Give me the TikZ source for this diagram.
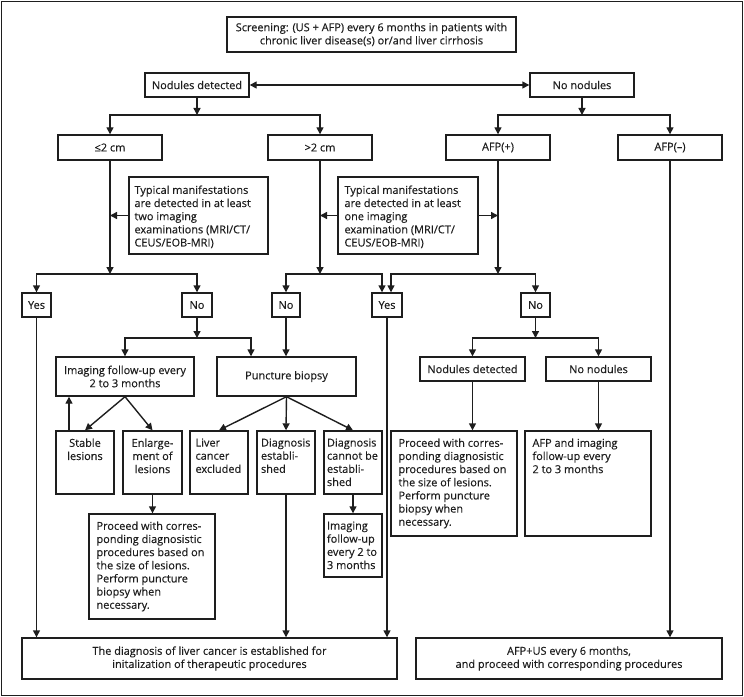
\documentclass[tikz,border=0pt]{standalone}
\usepackage{fontspec}
\setmainfont{Open Sans}[FakeBold=0.35]
\usetikzlibrary{arrows.meta}
\definecolor{lc}{HTML}{1E1E1E}
\tikzset{
  every node/.style={font=\fontsize{11}{13.2}\selectfont, text=lc},
  bx/.style={draw=lc, line width=1.4bp, inner sep=0pt, align=center},
  tx/.style={inner sep=0pt, align=left, anchor=north west},
  tc/.style={inner sep=0pt, align=center, anchor=north},
  ar/.style={draw=lc, line width=1.4bp, -{Triangle[length=7bp,width=7bp]}},
  dar/.style={draw=lc, line width=1.4bp, {Triangle[length=7bp,width=7bp]}-{Triangle[length=7bp,width=7bp]}},
  ln/.style={draw=lc, line width=1.4bp},
}
\newcommand\mybox[7][]{\node[bx,#1,minimum width={(#5-#3)*1bp},minimum height={(#6-#4)*1bp}] (#2) at ({(#3+#5)/2},{(#4+#6)/2}) {#7};}
\begin{document}
\begin{tikzpicture}[x=1bp,y=-1bp]
\useasboundingbox (0,0) rectangle (744,697);
\draw[ln] (1.5,1.5) rectangle (742.5,695.5);

% top level
\mybox{scr}{227}{17}{516}{52}{Screening: (US + AFP) every 6 months in patients with\\chronic liver disease(s) or/and liver cirrhosis}
\mybox{nd}{145}{73}{249}{97}{Nodules detected}
\mybox{nn}{530}{73}{634}{97}{No nodules}
\mybox{le2}{58}{135}{162}{160}{≤2 cm}
\mybox{gt2}{268}{135}{372}{160}{>2 cm}
\mybox{afpp}{446}{135}{550}{160}{AFP(+)}
\mybox{afpm}{618}{135}{722}{160}{AFP(–)}

% typical manifestation boxes
\mybox{typ1}{129}{177}{268}{254}{}
\node[tx] (typ1t) at ([shift={(6,9)}]typ1.north west) {Typical manifestations\\are detected in at least\\two imaging\\examinations (MRI/CT/\\CEUS/EOB-MRI)};
\mybox{typ2}{338}{177}{478}{254}{}
\node[tx] (typ2t) at ([shift={(7,9)}]typ2.north west) {Typical manifestations\\are detected in at least\\one imaging\\examination (MRI/CT/\\CEUS/EOB-MRI)};

% yes / no
\mybox{yes1}{22}{293}{51}{317}{Yes}
\mybox{no1}{182}{293}{212}{317}{No}
\mybox{no2}{272}{293}{300}{317}{No}
\mybox{yes2}{372}{293}{402}{317}{Yes}
\mybox{no3}{521}{293}{550}{317}{No}

% second level
\mybox{img}{56}{357}{194}{396}{Imaging follow-up every\\2 to 3 months}
\mybox{pb}{217}{357}{356}{396}{Puncture biopsy}
\mybox{nd2}{420}{357}{525}{381}{Nodules detected}
\mybox{nn2}{546}{357}{651}{381}{No nodules}

% third level
\mybox{stable}{56}{431}{114}{494}{}
\node[tc] (stablet) at ([yshift=-8bp]stable.north) {Stable\\lesions};
\mybox{enl}{123}{431}{182}{494}{}
\node[tc] (enlt) at ([yshift=-8bp]enl.north) {Enlarge-\\ment of\\lesions};
\mybox{lce}{190}{431}{248}{494}{}
\node[tx] (lcet) at ([shift={(6,8)}]lce.north west) {Liver\\cancer\\excluded};
\mybox{de}{257}{431}{315}{494}{}
\node[tx] (det) at ([shift={(4.5,8)}]de.north west) {Diagnosis\\establi-\\shed};
\mybox{dce}{324}{431}{382}{494}{}
\node[tx] (dcet) at ([shift={(3.5,8)}]dce.north west) {Diagnosis\\cannot be\\establi-\\shed};
\mybox{proc2}{391}{431}{517}{536}{}
\node[tx] (proc2t) at ([shift={(8,8)}]proc2.north west) {Proceed with corres-\\ponding diagnosistic\\procedures based on\\the size of lesions.\\Perform puncture\\biopsy when\\necessary.};
\mybox{afpimg}{525}{431}{651}{536}{}
\node[tx] (afpimgt) at ([shift={(8,8)}]afpimg.north west) {AFP and imaging\\follow-up every\\2 to 3 months};

% fourth level
\mybox{proc1}{89}{514}{215}{619}{}
\node[tx] (proc1t) at ([shift={(8,8)}]proc1.north west) {Proceed with corres-\\ponding diagnosistic\\procedures based on\\the size of lesions.\\Perform puncture\\biopsy when\\necessary.};
\mybox{imgs}{324}{514}{382}{577}{}
\node[tx] (imgst) at ([shift={(3.5,8)}]imgs.north west) {Imaging\\follow-up\\every 2 to\\3 months};

% final
\mybox{fin1}{22}{638}{397}{679}{The diagnosis of liver cancer is established for\\initalization of therapeutic procedures}
\mybox{fin2}{416}{638}{722}{679}{AFP+US every 6 months,\\and proceed with corresponding procedures}

% connectors
\draw[dar] (nd.east) -- (nn.west);
\coordinate (b1) at (197,115);
\draw[ar] (nd.south) -- (b1);
\draw[ar] (b1) -| (le2.north);
\draw[ar] (b1) -| (gt2.north);
\coordinate (b2) at (582,115);
\draw[ar] (nn.south) -- (b2);
\draw[ar] (b2) -| (afpp.north);
\draw[ar] (b2) -| (afpm.north);

\coordinate (b3) at (110,274);
\draw[ar] (le2.south) -- (b3);
\draw[ar] (typ1.west) -- (typ1.west -| le2.south);
\draw[ar] (b3) -| (yes1.north);
\draw[ar] (b3) -| (no1.north);
\coordinate (b4) at (320,274);
\draw[ar] (gt2.south) -- (b4);
\draw[ar] (typ2.west) -- (typ2.west -| gt2.south);
\draw[ar] (b4) -| (no2.north);
\draw[ar] (b4) -| ([xshift=-5bp]yes2.north);
\coordinate (b5) at (498,274);
\draw[ar] (afpp.south) -- (b5);
\draw[ar] (typ2.east) -- (typ2.east -| afpp.south);
\draw[ar] (b5) -| ([xshift=4bp]yes2.north);
\draw[ar] (b5) -| (no3.north);

\coordinate (b6) at (197,338);
\draw[ar] (no1.south) -- (b6);
\draw[ar] (b6) -| (img.north);
\draw[ar] (b6) -| ([xshift=-35.5bp]pb.north);
\draw[ar] (no2.south) -- (no2.south |- pb.north);
\coordinate (b7) at (535.5,338);
\draw[ar] (no3.south) -- (b7);
\draw[ar] (b7) -| (nd2.north);
\draw[ar] (b7) -| (nn2.north);

\draw[ar] (img.south) -- (stable.north);
\draw[ar] (img.south) -- (enl.north);
\draw[ar] ([xshift=-16bp]stable.north) -- ([xshift=-16bp]stable.north |- img.south);
\draw[ar] (pb.south) -- (lce.north);
\draw[ar] (pb.south) -- (de.north);
\draw[ar] (pb.south) -- (dce.north);
\draw[ar] (enl.south) -- (enl.south |- proc1.north);
\draw[ar] (dce.south) -- (dce.south |- imgs.north);
\draw[ar] (nd2.south) -- (nd2.south |- proc2.north);
\draw[ar] (nn2.south) -- (nn2.south |- afpimg.north);

\draw[ar] (yes1.south) -- (yes1.south |- fin1.north);
\draw[ar] (de.south) -- (de.south |- fin1.north);
\draw[ar] (yes2.south) -- (yes2.south |- fin1.north);
\draw[ar] (afpm.south) -- (afpm.south |- fin2.north);
\end{tikzpicture}
\end{document}
